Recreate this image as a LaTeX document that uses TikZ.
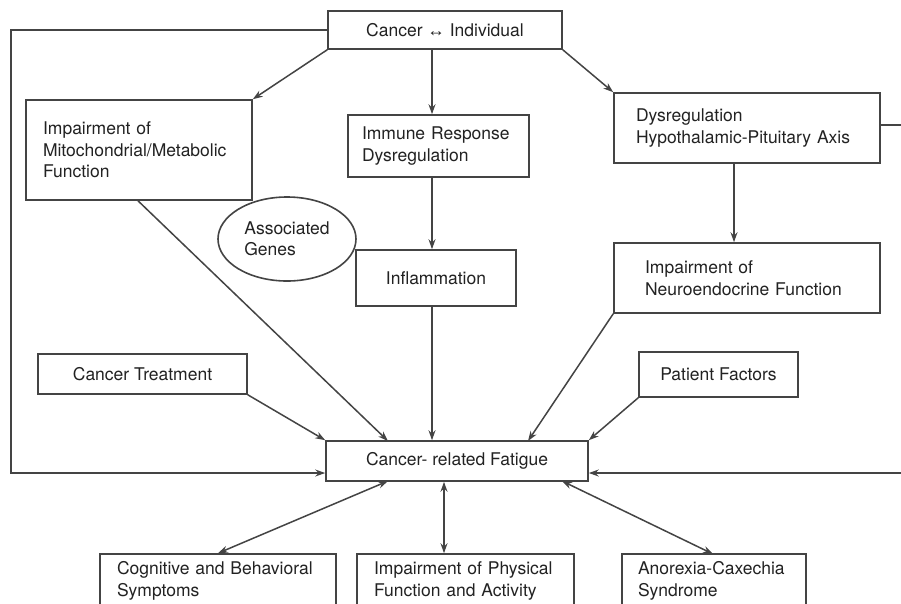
\documentclass[tikz,border=0pt]{standalone}
\usepackage{fontspec}
\setmainfont{TeX Gyre Heros}
\newfontfamily\symfont{Liberation Sans}
\usetikzlibrary{arrows.meta,shapes.geometric}
\definecolor{ln}{HTML}{444444}
\definecolor{tx}{HTML}{222222}
\begin{document}
\begin{tikzpicture}[x=1pt,y=-1pt,
  font=\fontsize{17.5}{21.5}\selectfont,
  every node/.style={text=tx},
  box/.style={draw=ln,line width=1.6pt,rectangle,inner ysep=0pt,align=left},
  cbox/.style={draw=ln,line width=1.6pt,rectangle,inner sep=0pt,align=center},
  arr/.style={draw=ln,line width=1.5pt,-{Stealth[length=10pt,width=7pt]}},
  darr/.style={draw=ln,line width=1.5pt,{Stealth[length=10pt,width=7pt]}-{Stealth[length=10pt,width=7pt]}}]
\clip (0,0) rectangle (901,603);
\useasboundingbox (0,0) rectangle (901,603);
\fill[white] (0,0) rectangle (901,603);

\node[cbox,minimum width=234pt,minimum height=38pt] (top) at (445,30) {Cancer {\symfont ↔} Individual};
\node[box,inner xsep=17pt,text width=192pt,minimum height=100pt] (mito) at (139,150) {Impairment of\\Mitochondrial/Metabolic\\Function};
\node[box,inner xsep=14pt,text width=153pt,minimum height=62pt] (imm) at (438.5,146) {Immune Response\\Dysregulation};
\node[box,inner xsep=22pt,text width=222pt,minimum height=70pt] (hpa) at (747,128) {Dysregulation\\Hypothalamic-Pituitary Axis};
\node[box,inner xsep=31pt,text width=204pt,minimum height=70pt] (neuro) at (747,278) {Impairment of\\Neuroendocrine Function};
\node[draw=ln,line width=1.6pt,ellipse,minimum width=138pt,minimum height=84pt,inner sep=0pt,align=left] (genes) at (287,239) {Associated\\Genes};
\node[cbox,minimum width=160pt,minimum height=56pt] (infl) at (436,278) {Inflammation};
\node[cbox,minimum width=209pt,minimum height=40pt] (treat) at (142.5,374) {Cancer Treatment};
\node[cbox,minimum width=159pt,minimum height=45pt] (pat) at (718.5,374.5) {Patient Factors};
\node[cbox,minimum width=262pt,minimum height=40pt] (fat) at (457,461) {Cancer- related Fatigue};
\node[box,inner xsep=17pt,text width=202pt,minimum height=54pt] (cog) at (218,581) {Cognitive and Behavioral\\Symptoms};
\node[box,inner xsep=17pt,text width=183pt,minimum height=54pt] (phys) at (465.5,581) {Impairment of Physical\\Function and Activity};
\node[box,inner xsep=16pt,text width=152pt,minimum height=54pt] (anor) at (714,581) {Anorexia-Caxechia\\Syndrome};

% top connections
\draw[arr] (top.south west) -- (mito.north east);
\draw[arr] (top.south -| imm.north) ++(-6.5,0) coordinate (tb) -- (tb |- imm.north);
\draw[arr] (top.south east) -- (hpa.north west);
\draw[arr] (imm.south -| tb) -- (infl.north -| tb);
\draw[arr] (infl.south -| tb) -- (fat.north -| tb);
\draw[arr] (hpa.south -| 734,0) -- (neuro.north -| 734,0);

% to fatigue
\draw[arr] (mito.south -| 138,0) -- (388,441);
\draw[arr] (treat.south east) -- (fat.north west);
\draw[arr] (neuro.south west) -- (528,441);
\draw[arr] (pat.south west) -- (fat.north east);

% loops
\draw[arr] (top.west) -- (11,30) -- (11,473) -- (fat.west |- 0,473);
\draw[arr] (hpa.east |- 0,125) -- (910,125) -- (910,473) -- (fat.east |- 0,473);

% bottom
\draw[darr] (388,481) -- (cog.north);
\draw[darr] (fat.south -| 444,0) -- (phys.north -| 444,0);
\draw[darr] (562,481) -- (713,554);
\end{tikzpicture}
\end{document}
